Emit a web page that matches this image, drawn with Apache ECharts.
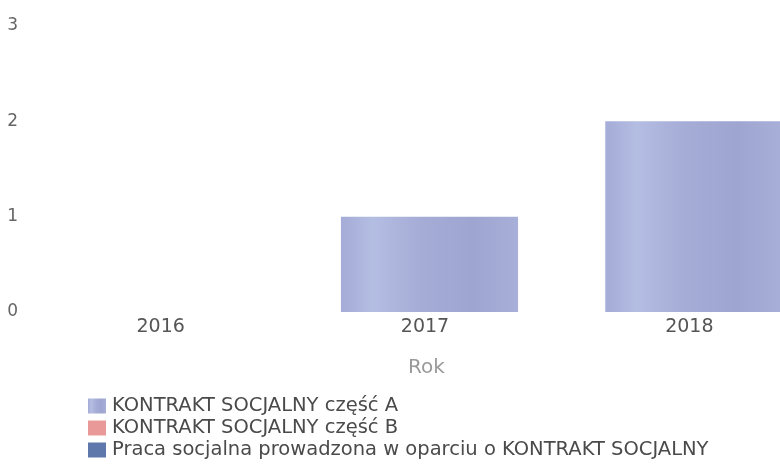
<!DOCTYPE html>
<html><head><meta charset="utf-8">
<script src="https://cdn.jsdelivr.net/npm/echarts@6/dist/echarts.min.js"></script>
<style>html,body{margin:0;padding:0;background:#fff}#c{width:780px;height:465px}</style>
</head><body><div id="c"></div>
<script>
const categories = ['2016', '2017', '2018'];
const seriesNames = ['KONTRAKT SOCJALNY część A', 'KONTRAKT SOCJALNY część B', 'Praca socjalna prowadzona w oparciu o KONTRAKT SOCJALNY'];
const valuesA = [0, 1, 2];
const valuesB = [0, 0, 0];
const valuesC = [0, 0, 0];
const yTicks = [0, 1, 2, 3];

const grad = new echarts.graphic.LinearGradient(0, 0, 1, 0, [
  {offset: 0, color: '#a4acd7'},
  {offset: 0.18, color: '#b4bde2'},
  {offset: 0.45, color: '#a5acd6'},
  {offset: 0.75, color: '#9ea5d0'},
  {offset: 1, color: '#a8afd8'}
]);
const chart = echarts.init(document.getElementById('c'), null, {renderer: 'canvas'});
const font = '"DejaVu Sans", sans-serif';
chart.setOption({
  animation: false,
  textStyle: {fontFamily: font},
  grid: {left: 33, width: 793, top: 26, bottom: 153, containLabel: false, outerBoundsMode: 'none'},
  legend: {
    orient: 'vertical', left: 88, top: 396, itemGap: 2, itemWidth: 18, itemHeight: 15,
    padding: 0,
    icon: 'rect',
    textStyle: {fontSize: 19.5, lineHeight: 19, color: '#4a4a4a', fontFamily: font, padding: [0,0,0,1]},
    data: seriesNames
  },
  xAxis: {
    type: 'category', data: categories,
    name: 'Rok', nameLocation: 'middle', nameGap: 46,
    nameTextStyle: {fontSize: 20, color: '#9a9a9a', padding: [0, 6, 0, 0]},
    axisLine: {show: false}, axisTick: {show: false},
    axisLabel: {fontSize: 19, color: '#555', margin: 6, padding: [0, 9, 0, 0]}
  },
  yAxis: {
    type: 'value', min: yTicks[0], max: yTicks[yTicks.length-1], interval: 1,
    axisLine: {show: false}, axisTick: {show: false}, splitLine: {show: false},
    axisLabel: {fontSize: 17, color: '#666', margin: 15}
  },
  series: [
    {name: seriesNames[0], type: 'bar', stack: 's', data: valuesA, barWidth: '67%', itemStyle: {color: grad}},
    {name: seriesNames[1], type: 'bar', stack: 's', data: valuesB, itemStyle: {color: '#e99a98'}},
    {name: seriesNames[2], type: 'bar', stack: 's', data: valuesC, itemStyle: {color: '#5f78ab'}}
  ]
});
</script></body></html>
